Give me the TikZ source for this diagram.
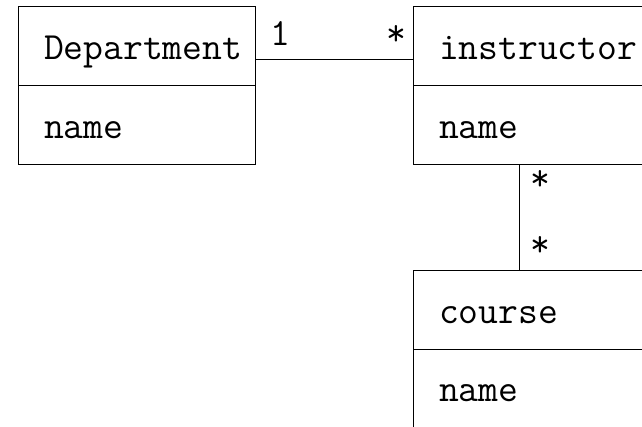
\documentclass[tikz,border=0pt]{standalone}
\usetikzlibrary{calc}
\begin{document}
\begin{tikzpicture}[x=1pt,y=-1pt,
  comp/.style={draw, line width=1pt, minimum width=237pt, minimum height=79pt, inner sep=0pt, outer sep=0pt, anchor=north west},
  lbl/.style={font=\fontsize{38.5}{46}\selectfont\ttfamily, inner sep=0pt, outer sep=0pt, anchor=base west},
  conn/.style={line width=1pt}]
\useasboundingbox (0,0) rectangle (642,426);
\clip (0,0) rectangle (642,426);
% Department
\node[comp] (dt) at (18,6) {};
\node[comp] (db) at (18,85) {};
\node[lbl] (dtx) at (44,59) {Department};
\node[lbl] (dbx) at (44,138) {name};
% instructor
\node[comp] (it) at (413,6) {};
\node[comp] (ib) at (413,85) {};
\node[lbl] (itx) at (439,59) {instructor};
\node[lbl] (ibx) at (439,138) {name};
% course
\node[comp] (ct) at (413,270) {};
\node[comp] (cb) at (413,349) {};
\node[lbl] (ctx) at (439,323) {course};
\node[lbl] (cbx) at (439,401) {name};
% connectors
\draw[conn] (dt.east |- dtx.base) -- (it.west |- dtx.base);
\coordinate (vx) at ($(ib.south west)+(106,0)$);
\draw[conn] (vx) -- (vx |- ct.north);
% multiplicities
\node[lbl] (m1) at (270,45) {1};
\node[lbl] (m2) at (386,45) {*};
\node[lbl] (m3) at (530,190) {*};
\node[lbl] (m4) at (530,256) {*};
\end{tikzpicture}
\end{document}
